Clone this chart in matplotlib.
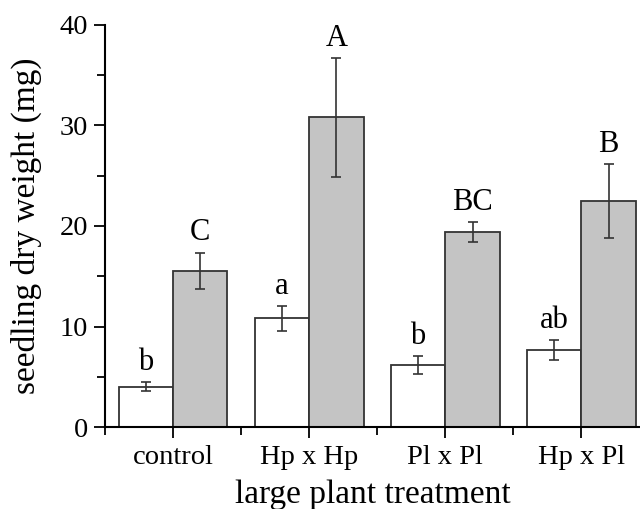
import matplotlib
matplotlib.use("Agg")
import matplotlib.pyplot as plt
from matplotlib.ticker import FixedLocator, MultipleLocator
import numpy as np

# seedling dry weight (mg) per large plant treatment
treatments = ["control", "Hp x Hp", "Pl x Pl", "Hp x Pl"]
white_mean = [4.0, 10.8, 6.15, 7.65]
white_err = [0.45, 1.2, 0.87, 0.98]
gray_mean = [15.55, 30.8, 19.37, 22.5]
gray_err = [1.8, 5.9, 1.0, 3.65]
white_letters = ["b", "a", "b", "ab"]
gray_letters = ["C", "A", "BC", "B"]

plt.rcParams["font.family"] = ["Liberation Serif", "DejaVu Serif"]

fig = plt.figure(figsize=(6.4, 5.09), dpi=100)
ax = fig.add_axes([0.164, 0.161, 0.836, 0.790])

x = np.arange(len(treatments))
w = 0.4
edge = "#333333"
err_kw = dict(ecolor=edge, elinewidth=1.2, capsize=3.3, capthick=1.2)

ax.bar(x - w / 2, white_mean, w, color="white", edgecolor=edge, linewidth=1.3,
       yerr=white_err, error_kw=err_kw, zorder=2)
ax.bar(x + w / 2, gray_mean, w, color="#c4c4c4", edgecolor=edge, linewidth=1.3,
       yerr=gray_err, error_kw=err_kw, zorder=2)

# significance letters above the error bars
for i in range(len(treatments)):
    ax.text(x[i] - w / 2, white_mean[i] + white_err[i] + 1.25, white_letters[i],
            ha="center", va="baseline", fontsize=22)
    ax.text(x[i] + w / 2, gray_mean[i] + gray_err[i] + 1.25, gray_letters[i],
            ha="center", va="baseline", fontsize=22)

ax.set_xlim(-0.5, 3.43)
ax.set_ylim(0, 40)
ax.set_xticks(x)
ax.set_xticklabels(treatments)
ax.xaxis.set_minor_locator(FixedLocator([-0.5, 0.5, 1.5, 2.5, 3.5]))
ax.yaxis.set_major_locator(MultipleLocator(10))
ax.yaxis.set_minor_locator(MultipleLocator(5))

ax.tick_params(which="major", direction="out", length=8, width=1.3, labelsize=20.5, pad=5)
ax.tick_params(which="minor", direction="out", length=6, width=1.3)
ax.tick_params(axis="y", which="major", pad=4)

for side in ["top", "right"]:
    ax.spines[side].set_visible(False)
for side in ["left", "bottom"]:
    ax.spines[side].set_linewidth(1.5)

ax.set_ylabel("seedling dry weight (mg)", fontsize=24)
ax.set_xlabel("large plant treatment", fontsize=24, labelpad=7)
ax.yaxis.set_label_coords(-0.118, 0.5)

fig.savefig("out.png", dpi=100)
